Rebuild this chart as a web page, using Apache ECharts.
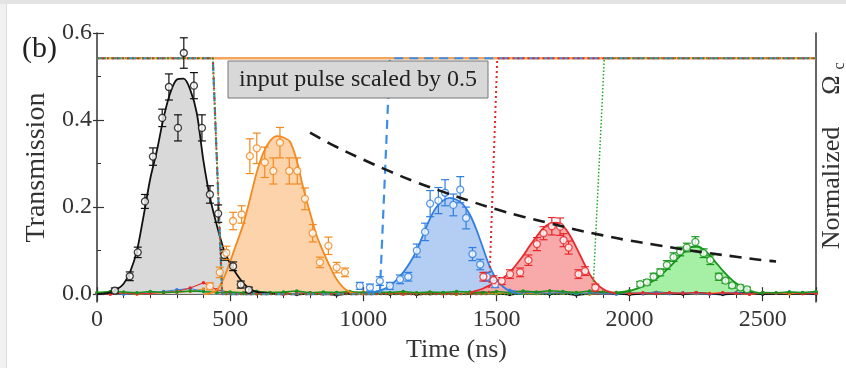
<!DOCTYPE html>
<html>
<head>
<meta charset="utf-8">
<script src="https://cdn.jsdelivr.net/npm/echarts@6/dist/echarts.min.js"></script>
<style>
  html, body { margin: 0; padding: 0; background: #fff; }
  #chart { width: 846px; height: 368px; }
</style>
</head>
<body>
<div id="chart"></div>
<script>
// ---- axis ticks ----
const xLabels = [0, 500, 1000, 1500, 2000, 2500];
const yLabels = [0, 0.2, 0.4, 0.6];
const yMinor = [0.1, 0.3, 0.5];

// ---- fitted pulses: [time ns, transmission] ----
const blackFit = [[0,0],[25,0.001],[50,0.004],[75,0.011],[100,0.024],[125,0.052],[150,0.1],[175,0.18],
  [200,0.265],[225,0.33],[250,0.405],[275,0.462],[300,0.493],[325,0.495],[350,0.47],[375,0.415],
  [400,0.305],[425,0.22],[450,0.158],[475,0.105],[500,0.07],[525,0.045],[550,0.025],[575,0.012],
  [600,0.005],[650,0.001],[700,0]];
const orangeFit = [[400,0],[425,0.002],[450,0.009],[475,0.035],[500,0.075],[525,0.118],[550,0.162],
  [575,0.22],[600,0.28],[625,0.325],[650,0.352],[675,0.363],[700,0.36],[725,0.35],[750,0.307],
  [775,0.243],[800,0.187],[825,0.134],[850,0.097],[875,0.063],[900,0.034],[925,0.015],[950,0.005],
  [975,0.001],[1000,0]];
const blueFit = [[1000,0.001],[1025,0.003],[1050,0.006],[1075,0.011],[1100,0.019],[1125,0.033],
  [1150,0.05],[1175,0.072],[1200,0.1],[1225,0.137],[1250,0.173],[1275,0.2],[1300,0.215],[1325,0.221],
  [1350,0.217],[1375,0.206],[1400,0.183],[1425,0.148],[1450,0.105],[1475,0.063],[1500,0.034],
  [1525,0.017],[1550,0.007],[1575,0.002],[1600,0]];
const redFit = [[1400,0.003],[1425,0.008],[1450,0.013],[1475,0.02],[1500,0.028],[1525,0.037],
  [1550,0.05],[1575,0.068],[1600,0.088],[1625,0.111],[1650,0.132],[1675,0.151],[1700,0.162],
  [1725,0.164],[1750,0.157],[1775,0.136],[1800,0.107],[1825,0.076],[1850,0.046],[1875,0.025],
  [1900,0.012],[1925,0.005],[1950,0.001]];
const greenFit = [[1950,0.002],[1975,0.004],[2000,0.007],[2025,0.012],[2050,0.018],[2075,0.026],
  [2100,0.035],[2125,0.048],[2150,0.062],[2175,0.078],[2200,0.094],[2225,0.106],[2250,0.111],
  [2275,0.104],[2300,0.09],[2325,0.072],[2350,0.054],[2375,0.038],[2400,0.025],[2425,0.016],
  [2450,0.009],[2475,0.004],[2500,0.001]];

// ---- measured points: [time ns, transmission, error] ----
const blackPts = [[67,0.008,0.006],[123,0.041,0.01],[153,0.096,0.012],[180,0.213,0.016],[210,0.316,0.02],
  [245,0.405,0.02],[270,0.476,0.03],[304,0.382,0.03],[326,0.554,0.035],[364,0.479,0.03],[394,0.382,0.03],
  [424,0.229,0.02],[455,0.185,0.02],[478,0.09,0.012],[511,0.064,0.01],[540,0.022,0.008],[570,0.01,0.006]];
const orangePts = [[424,0.018,0.008],[461,0.05,0.012],[486,0.095,0.015],[511,0.168,0.02],[543,0.183,0.02],
  [574,0.317,0.04],[600,0.335,0.035],[630,0.303,0.035],[662,0.283,0.03],[687,0.348,0.035],[722,0.283,0.03],
  [752,0.283,0.03],[781,0.219,0.025],[810,0.14,0.02],[837,0.073,0.012],[869,0.111,0.02],[900,0.061,0.012],
  [931,0.05,0.01]];
const bluePts = [[987,0.019,0.008],[1025,0.015,0.008],[1062,0.03,0.01],[1100,0.019,0.008],[1138,0.034,0.01],
  [1169,0.04,0.01],[1201,0.1,0.015],[1232,0.143,0.02],[1251,0.208,0.03],[1282,0.215,0.03],[1307,0.233,0.03],
  [1338,0.205,0.025],[1364,0.24,0.03],[1386,0.175,0.025],[1410,0.092,0.015],[1439,0.068,0.012],
  [1464,0.04,0.01],[1495,0.023,0.008]];
const redPts = [[1451,0.04,0.01],[1489,0.032,0.01],[1520,0.03,0.008],[1551,0.046,0.01],[1589,0.05,0.01],
  [1620,0.078,0.012],[1652,0.115,0.015],[1677,0.14,0.015],[1708,0.156,0.02],[1739,0.155,0.02],
  [1752,0.124,0.015],[1771,0.107,0.015],[1808,0.046,0.01],[1833,0.053,0.01],[1871,0.015,0.008]];
const greenPts = [[2040,0.023,0.006],[2065,0.027,0.006],[2090,0.04,0.008],[2115,0.05,0.008],[2140,0.067,0.01],
  [2165,0.085,0.01],[2190,0.098,0.01],[2215,0.107,0.01],[2247,0.12,0.012],[2278,0.094,0.01],[2303,0.078,0.01],
  [2335,0.04,0.008],[2360,0.031,0.006],[2385,0.02,0.006],[2416,0.015,0.006],[2441,0.011,0.005]];

// ---- baseline noise, sampled every 50 ns ----
const baseT = [0,50,100,150,200,250,300,350,400,450,500,
  550,600,650,700,750,800,850,900,950,1000,1050,
  1100,1150,1200,1250,1300,1350,1400,1450,1500,1550,1600,
  1650,1700,1750,1800,1850,1900,1950,2000,2050,2100,2150,
  2200,2250,2300,2350,2400,2450,2500,2550,2600,2650,2700];
const blackBase = [0.001,0.003,null,null,null,null,null,null,null,null,null,
  null,0.006,0.002,0.003,-0.001,0.002,0.001,-0.002,0.002,0.004,0.002,
  0.000,0.003,-0.001,0.001,0.003,0.000,0.002,0.004,0.001,-0.001,0.002,
  0.003,0.000,0.002,-0.002,0.001,0.003,0.002,-0.001,0.001,0.004,0.002,
  0.000,0.003,0.001,-0.001,0.002,0.003,0.000,0.002,0.001,0.003,0.001];
const greenBase = [0.004,0.006,0.005,0.003,0.006,0.004,0.005,0.007,0.006,0.004,0.005,
  0.003,0.006,0.004,0.005,0.007,0.003,0.005,0.004,0.006,0.003,0.005,
  0.004,0.006,0.003,0.005,0.004,0.006,0.005,0.003,0.006,0.004,0.007,
  0.005,0.008,0.006,0.004,0.007,0.005,0.004,0.008,null,null,null,
  null,null,null,null,null,null,0.004,0.003,0.005,0.004,0.006];
const redBase = [0.002,0.000,0.003,0.001,0.002,0.004,0.006,0.014,0.026,0.01,0.004,
  0.002,0.001,0.003,0.000,0.002,0.003,0.001,0.002,0.004,0.001,0.002,
  0.003,0.000,0.002,0.004,0.001,0.003,null,null,null,null,null,
  null,null,null,null,null,null,0.004,0.002,0.003,0.001,0.003,
  0.002,0.004,0.001,0.003,0.002,0.000,0.003,0.002,0.004,0.001,0.002];
const blueBase = [0.001,0.002,0.000,0.002,0.003,0.006,0.01,0.013,0.006,0.003,0.002,
  0.001,0.003,0.002,0.000,0.002,0.003,0.001,0.004,null,null,null,
  null,null,null,null,null,null,null,null,null,0.009,0.005,
  0.003,0.002,0.004,0.001,0.003,0.002,0.000,0.003,0.002,0.004,0.001,
  0.003,0.002,0.000,0.002,0.004,0.001,0.003,0.002,0.005,0.003,0.004];
const orangeBase = [0.002,0.001,0.003,0.000,0.002,0.003,0.004,0.006,0.012,null,null,
  null,null,null,null,null,null,null,null,null,0.005,0.003,
  0.002,0.004,0.001,0.003,0.002,0.000,0.003,0.002,0.001,0.003,0.002,
  0.001,0.003,0.002,0.004,0.000,0.002,0.003,0.001,0.002,0.004,0.002,
  0.003,0.001,0.002,0.004,0.002,0.000,0.003,0.002,0.001,0.003,0.002];

// ---- control field (normalized Omega_c), step shapes ----
const orangeCtrl = [[0,0.542],[2700,0.542]];
const blueCtrl = [[0,0.542],[435,0.542],[470,0],[1062,0],[1100,0.542],[2700,0.542]];
const redCtrl = [[0,0.542],[435,0.542],[470,0],[1472,0],[1503,0.542],[2700,0.542]];
const greenCtrl = [[0,0.542],[435,0.542],[470,0],[1862,0],[1905,0.542],[2700,0.542]];

// ---- decay of retrieved peak (dashed) ----
const decay = [[800,0.371],[900,0.338],[1000,0.309],[1100,0.282],[1200,0.257],[1300,0.235],
  [1400,0.214],[1500,0.195],[1600,0.178],[1700,0.163],[1800,0.148],[1900,0.135],[2000,0.123],
  [2100,0.113],[2200,0.103],[2300,0.094],[2400,0.086],[2500,0.078],[2550,0.075]];

const SERIF = '"Liberation Serif", "DejaVu Serif", serif';

const pulses = [
  { fit: blackFit, pts: blackPts, base: blackBase, line: '#111111', fill: '#d9d9d9', baseW: 1.8 },
  { fit: orangeFit, pts: orangePts, base: orangeBase, line: '#f28a1e', fill: '#fdd3ab', baseW: 1 },
  { fit: blueFit, pts: bluePts, base: blueBase, line: '#2f7fe0', fill: '#b3cdf3', baseW: 1 },
  { fit: redFit, pts: redPts, base: redBase, line: '#e8282b', fill: '#f8a9aa', baseW: 1.1 },
  { fit: greenFit, pts: greenPts, base: greenBase, line: '#17951b', fill: '#a6f0a6', baseW: 1.5 },
];

function errorBars(pts, color) {
  return {
    type: 'custom',
    z: 5,
    silent: true,
    encode: { x: 0, y: 1 },
    data: pts,
    renderItem: (params, api) => {
      const t = api.value(0), v = api.value(1), e = api.value(2);
      const hi = api.coord([t, v + e]);
      const lo = api.coord([t, v - e]);
      const w = 4;
      const style = { stroke: color, lineWidth: 1.2 };
      return {
        type: 'group',
        children: [
          { type: 'line', shape: { x1: hi[0], y1: hi[1], x2: lo[0], y2: lo[1] }, style },
          { type: 'line', shape: { x1: hi[0] - w, y1: hi[1], x2: hi[0] + w, y2: hi[1] }, style },
          { type: 'line', shape: { x1: lo[0] - w, y1: lo[1], x2: lo[0] + w, y2: lo[1] }, style },
        ],
      };
    },
  };
}

const series = [];
// filled areas first so every line sits on top
pulses.forEach(p => {
  series.push({
    type: 'line', data: p.fit, smooth: 0.3, showSymbol: false, z: 1, silent: true,
    lineStyle: { width: 0 }, areaStyle: { color: p.fill, opacity: 1 },
  });
});
pulses.forEach(p => {
  series.push({
    type: 'line', data: baseT.map((t, i) => [t, p.base[i]]), z: 2, silent: true,
    symbol: 'circle', symbolSize: 3.5, connectNulls: false,
    lineStyle: { width: p.baseW, color: p.line }, itemStyle: { color: p.line },
  });
});
pulses.forEach(p => {
  series.push({
    type: 'line', data: p.fit, smooth: 0.3, showSymbol: false, z: 3, silent: true,
    lineStyle: { width: 1.8, color: p.line },
  });
});
series.push(
  { type: 'line', data: orangeCtrl, showSymbol: false, z: 4, lineStyle: { color: '#f4a55c', width: 2.5 } },
  { type: 'line', data: blueCtrl, showSymbol: false, z: 4, lineStyle: { color: '#3b8ee8', width: 2.2, type: [9, 6] } },
  { type: 'line', data: redCtrl, showSymbol: false, z: 4, lineStyle: { color: '#e8262a', width: 2, type: [2, 3] } },
  { type: 'line', data: greenCtrl, showSymbol: false, z: 4, lineStyle: { color: '#22a622', width: 1.5, type: [1.5, 2] } }
);
pulses.forEach(p => {
  series.push(errorBars(p.pts, p.line));
  series.push({
    type: 'scatter', data: p.pts, z: 6, silent: true,
    symbol: 'circle', symbolSize: 7,
    itemStyle: { color: '#ffffff', borderColor: p.line, borderWidth: 1.3 },
  });
});
series.push({
  type: 'line', data: decay, smooth: true, showSymbol: false, z: 7,
  lineStyle: { color: '#1a1a1a', width: 2.6, type: [12, 8] },
});

const axisText = { fontFamily: SERIF, fontSize: 24, color: '#333' };

const option = {
  animation: false,
  backgroundColor: '#ffffff',
  grid: { left: 97, right: 30, top: 33, bottom: 65 },
  xAxis: [
    {
      type: 'value', position: 'bottom', min: 0, max: 2700, interval: 500,
      axisLine: { lineStyle: { color: '#555', width: 2 } },
      axisTick: { inside: true, length: 7, lineStyle: { color: '#333', width: 1.2 } },
      minorTick: { show: true, splitNumber: 5, length: 4, lineStyle: { color: '#333', width: 1 } },
      axisLabel: { ...axisText, margin: 6, customValues: xLabels, formatter: v => String(v) },
      splitLine: { show: false },
      name: 'Time (ns)', nameLocation: 'middle', nameGap: 19,
      nameTextStyle: { fontFamily: SERIF, fontSize: 26, color: '#333' },
    },
    {
      type: 'value', position: 'top', min: 0, max: 2700, interval: 500,
      axisLine: { lineStyle: { color: '#333', width: 1.5 } },
      axisTick: { inside: true, length: 7, lineStyle: { color: '#333', width: 1.2 } },
      minorTick: { show: true, splitNumber: 5, length: 4, lineStyle: { color: '#333', width: 1 } },
      axisLabel: { show: false },
      splitLine: { show: false },
    },
  ],
  yAxis: [
    {
      type: 'value', position: 'left', min: -0.0183, max: 0.6,
      axisLine: { show: true, lineStyle: { color: '#333', width: 1.5 } },
      axisTick: { show: true, inside: true, length: 7, customValues: yLabels, lineStyle: { color: '#333', width: 1.2 } },
      axisLabel: { ...axisText, margin: 5, customValues: yLabels, formatter: v => v.toFixed(1) },
      splitLine: { show: false },
      name: 'Transmission', nameLocation: 'middle', nameGap: 40,
      nameTextStyle: { fontFamily: SERIF, fontSize: 28, color: '#333' },
    },
    {
      type: 'value', position: 'left', min: -0.0183, max: 0.6,
      axisLine: { show: false },
      axisTick: { show: true, inside: true, length: 4, customValues: yMinor, lineStyle: { color: '#333', width: 1 } },
      axisLabel: { show: false },
      splitLine: { show: false },
    },
    {
      type: 'value', position: 'left', min: -0.0183, max: 0.6,
      axisLine: { show: false },
      axisTick: { show: true, inside: false, length: 4, customValues: yLabels, lineStyle: { color: '#333', width: 1.2 } },
      axisLabel: { show: false },
      splitLine: { show: false },
    },
    {
      type: 'value', position: 'right', min: -0.0183, max: 0.6,
      axisLine: { show: true, lineStyle: { color: '#333', width: 1.5 } },
      axisTick: { show: false },
      axisLabel: { show: false },
      splitLine: { show: false },
    },
  ],
  graphic: [
    { type: 'rect', silent: true, shape: { x: 0, y: 0, width: 846, height: 4 }, style: { fill: '#e4e4e4' } },
    { type: 'rect', silent: true, shape: { x: 0, y: 4, width: 7, height: 364 }, style: { fill: '#f1f1f1' } },
    { type: 'line', silent: true, shape: { x1: 6.5, y1: 4, x2: 6.5, y2: 368 }, style: { stroke: '#dcdcdc', lineWidth: 1 } },
    { type: 'text', silent: true, left: 22, top: 34, style: { text: '(b)', font: '30px ' + SERIF, fill: '#222' } },
    { type: 'rect', silent: true, z: 10, shape: { x: 228, y: 61, width: 260, height: 37 }, style: { fill: '#d8d8d8', stroke: '#777', lineWidth: 1 } },
    { type: 'text', silent: true, z: 11, x: 358, y: 80, style: { text: 'input pulse scaled by 0.5', font: '24px ' + SERIF, fill: '#222', align: 'center', verticalAlign: 'middle' } },
    { type: 'text', silent: true, x: 832, y: 188, rotation: Math.PI / 2, style: { text: 'Normalized', font: '26px ' + SERIF, fill: '#333', align: 'center', verticalAlign: 'middle' } },
    { type: 'text', silent: true, x: 832, y: 85, rotation: Math.PI / 2, style: { text: 'Ω', font: '26px ' + SERIF, fill: '#333', align: 'center', verticalAlign: 'middle' } },
    { type: 'text', silent: true, x: 840, y: 66, rotation: Math.PI / 2, style: { text: 'c', font: '16px ' + SERIF, fill: '#333', align: 'center', verticalAlign: 'middle' } },
  ],
  series,
};

const chart = echarts.init(document.getElementById('chart'), null, { renderer: 'canvas' });
chart.setOption(option);
</script>
</body>
</html>
